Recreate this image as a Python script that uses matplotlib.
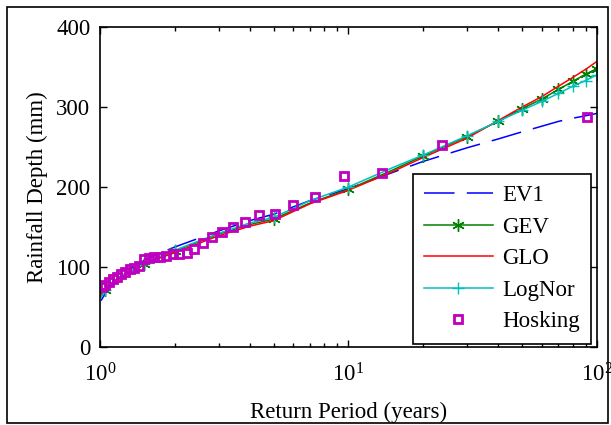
import matplotlib
matplotlib.use('Agg')
import matplotlib.pyplot as plt
from matplotlib.patches import Rectangle
from matplotlib.ticker import LogLocator, FixedLocator

plt.rcParams['font.family'] = ['Liberation Serif', 'DejaVu Serif']
plt.rcParams['mathtext.fontset'] = 'custom'
plt.rcParams['mathtext.rm'] = 'Liberation Serif'
plt.rcParams['mathtext.it'] = 'Liberation Serif:italic'
plt.rcParams['font.size'] = 16.5

# return periods for the fitted curves
T = [1.01, 1.05, 1.1, 1.2, 1.3, 1.5, 1.7, 2, 3, 4, 5, 7, 10, 15, 20, 30, 40, 50, 60, 70, 80, 90, 100]
ev1 = [58, 67, 76, 88, 96, 108, 116, 125, 145, 158, 166, 183, 198, 218, 232, 249, 260, 269, 276, 282, 286, 289, 292]
gev = [63, 71, 78, 87, 94, 104, 111, 120, 141, 153, 160, 180, 197, 221, 239, 263, 282, 298, 310, 322, 332, 341, 348]
glo = [64, 72, 79, 88, 94, 103, 110, 118, 139, 151, 158, 179, 196, 219, 237, 261, 283, 300, 313, 326, 337, 347, 357]
lognor = [62, 71, 78, 87, 94, 104, 112, 121, 142, 155, 162, 183, 200, 224, 240, 264, 282, 296, 307, 317, 326, 333, 340]
mark_idx = [1, 5, 7, 10, 12, 14, 15, 16, 17, 18, 19, 20, 21, 22]

# Hosking plotting positions (observed maxima)
T_obs = [1.02, 1.05, 1.09, 1.13, 1.17, 1.22, 1.26, 1.32, 1.37, 1.43, 1.50, 1.57, 1.65, 1.74, 1.84, 1.96,
         2.08, 2.23, 2.40, 2.59, 2.82, 3.09, 3.42, 3.83, 4.35, 5.04, 5.98, 7.36, 9.55, 13.6, 23.7, 91.4]
rain_obs = [75, 78, 81, 85, 88, 91, 94, 97, 99, 101, 110, 111, 112, 113, 114, 116,
            116, 118, 122, 130, 138, 144, 150, 156, 165, 166, 177, 187, 214, 217, 252, 288]

fig = plt.figure(figsize=(6.11, 4.25), dpi=100)
ax = fig.add_axes([0.1637, 0.1835, 0.8133, 0.753])

ax.plot(T, ev1, color=(0, 0, 1), lw=1.1, dashes=(20, 8), label='EV1')
ax.plot(T, gev, color=(0, 0.5, 0), lw=1.1, marker=(6, 2, 0), ms=9, mew=1.0, markevery=mark_idx, label='GEV')
ax.plot(T, glo, color=(1, 0, 0), lw=1.1, label='GLO')
ax.plot(T, lognor, color=(0, 0.75, 0.75), lw=1.1, marker='+', ms=9, mew=1.0, markevery=mark_idx, label='LogNor')
ax.plot(T_obs, rain_obs, ls='none', marker='s', ms=6, mew=2, mfc='none', mec=(0.75, 0, 0.75), label='Hosking')

ax.set_xscale('log')
ax.set_xlim(1, 100)
ax.set_ylim(0, 400)
ax.yaxis.set_major_locator(FixedLocator([0, 100, 200, 300, 400]))
ax.xaxis.set_major_locator(LogLocator(base=10))
ax.xaxis.set_minor_locator(LogLocator(base=10, subs=range(2, 10)))
ax.tick_params(which='both', direction='in', top=True, right=True, width=1)
ax.tick_params(which='major', length=5)
ax.tick_params(which='minor', length=3)
ax.tick_params(axis='x', pad=12)
ax.tick_params(axis='y', pad=7)
for s in ax.spines.values():
    s.set_linewidth(1.2)

ax.set_xlabel('Return Period (years)', labelpad=11)
ax.set_ylabel('Rainfall Depth (mm)', labelpad=6)

leg = ax.legend(loc='lower right', bbox_to_anchor=(0.988, 0.01), borderaxespad=0,
                fancybox=False, framealpha=1, edgecolor='black', handlelength=3.0,
                handletextpad=0.4, labelspacing=0.46, borderpad=0.5)
leg.get_frame().set_linewidth(1.2)

fig.patches.append(Rectangle((7 / 611, 2 / 425), 601 / 611, 416 / 425, transform=fig.transFigure,
                             fill=False, edgecolor='black', lw=1.2))

fig.savefig('out.png', dpi=100)
